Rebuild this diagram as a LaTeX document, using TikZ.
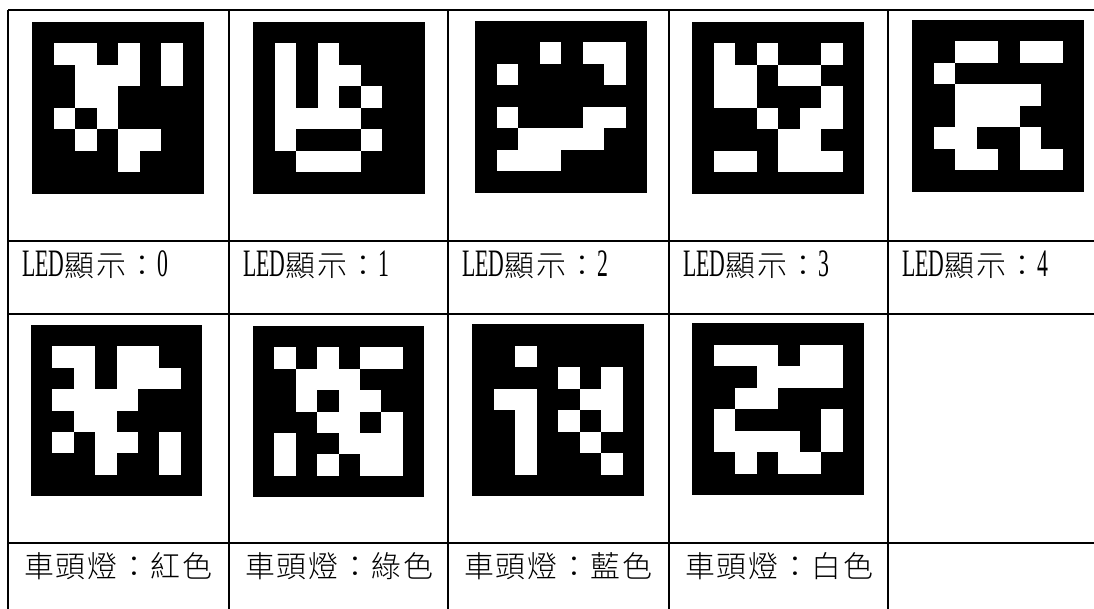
\documentclass[tikz,border=0pt]{standalone}
\usepackage{fontspec}
\IfFontExistsTF{Noto Sans CJK TC Light}
  {\newfontfamily\cjkfont[LetterSpace=6]{Noto Sans CJK TC Light}}
  {\newfontfamily\cjkfont[LetterSpace=6]{Noto Sans CJK TC}}
\newfontfamily\latfont[Scale=1.3,FakeStretch=0.56]{Liberation Serif}
\tikzset{
  gridline/.style={line width=1.3bp, black},
  lbl/.style={anchor=base west, inner sep=0pt, font=\fontsize{30}{30}\selectfont},
}
% marker: x, y, size, 36 bits (1 = white cell), row by row
\newcommand\arucomark[4]{%
  \fill[black] (#1,#2) rectangle ++(#3,#3);
  \foreach \b [count=\i from 0] in {#4}{%
    \ifnum\b=1
      \pgfmathtruncatemacro\rr{int(\i/6)}%
      \pgfmathtruncatemacro\cc{mod(\i,6)}%
      \fill[white] ({#1+(\cc+1)*#3/8},{#2+(\rr+1)*#3/8}) rectangle ++({#3/8},{#3/8});
    \fi
  }%
}
\begin{document}
\begin{tikzpicture}[x=1bp,y=-1bp]
\useasboundingbox (0,0) rectangle (1094,609);
\fill[white] (0,0) rectangle (1094,609);
% table lines
\foreach \x in {8,229,448,669,888} \draw[gridline] (\x,10) -- (\x,612);
\foreach \y in {10,241,314,543} \draw[gridline] (8,\y) -- (1096,\y);
% row 1 markers
\arucomark{32}{22}{172}{1,1,0,1,0,1, 0,1,1,1,0,1, 0,1,1,0,0,0, 1,0,1,0,0,0, 0,1,0,1,1,0, 0,0,0,1,0,0}
\arucomark{253}{22}{172}{1,0,1,0,0,0, 1,0,1,1,0,0, 1,0,1,0,1,0, 1,1,1,1,0,0, 1,0,0,0,1,0, 0,1,1,1,0,0}
\arucomark{475}{21}{172}{0,0,1,0,1,1, 1,0,0,0,0,1, 0,0,0,0,0,0, 1,0,0,0,1,1, 0,1,1,1,1,0, 1,1,1,0,0,0}
\arucomark{692}{22}{172}{1,0,1,0,0,1, 1,1,0,1,1,0, 1,1,0,0,0,1, 0,0,1,0,1,1, 0,0,0,1,1,0, 1,1,0,1,1,1}
\arucomark{912}{20}{172}{0,1,1,0,1,1, 1,0,0,0,0,0, 0,1,1,1,1,0, 0,1,1,1,0,0, 1,1,0,0,1,0, 0,1,1,0,1,1}
% row 2 labels
\node[lbl] (t0) at (22,277) {\latfont LED\cjkfont 顯示：\latfont 0};
\node[lbl] (t1) at (243,277) {\latfont LED\cjkfont 顯示：\latfont 1};
\node[lbl] (t2) at (462,277) {\latfont LED\cjkfont 顯示：\latfont 2};
\node[lbl] (t3) at (683,277) {\latfont LED\cjkfont 顯示：\latfont 3};
\node[lbl] (t4) at (902,277) {\latfont LED\cjkfont 顯示：\latfont 4};
% row 3 markers
\arucomark{31}{325}{171}{1,1,0,1,1,0, 0,1,0,1,1,1, 1,1,1,1,0,0, 0,1,1,0,0,0, 1,0,1,1,0,1, 0,0,1,0,0,1}
\arucomark{253}{326}{171}{1,0,1,0,1,1, 0,1,1,1,0,0, 0,1,0,1,1,0, 0,0,1,1,0,1, 1,0,0,1,1,1, 1,0,1,0,1,1}
\arucomark{472}{324}{172}{0,1,0,0,0,0, 0,0,0,1,0,1, 1,1,0,0,1,1, 0,1,0,1,0,1, 0,1,0,0,1,0, 0,1,0,0,0,1}
\arucomark{692}{323}{172}{1,1,1,0,1,1, 0,0,1,1,1,1, 0,1,1,0,0,0, 1,0,0,0,0,1, 1,1,1,1,0,1, 0,1,0,1,1,0}
% row 4 labels
\node[lbl] (c0) at (24,577) {\cjkfont 車頭燈：紅色};
\node[lbl] (c1) at (245,577) {\cjkfont 車頭燈：綠色};
\node[lbl] (c2) at (464,577) {\cjkfont 車頭燈：藍色};
\node[lbl] (c3) at (685,577) {\cjkfont 車頭燈：白色};
\end{tikzpicture}
\end{document}
